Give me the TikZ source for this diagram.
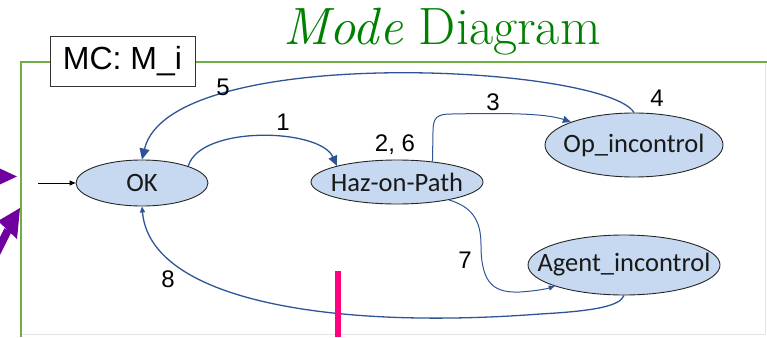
\documentclass[tikz,border=0pt]{standalone}
\usepackage{fontspec}
\newfontfamily\carl{Carlito}
\newfontfamily\libsans{Liberation Sans}
\usetikzlibrary{shapes.geometric,arrows.meta}
\definecolor{stateblue}{RGB}{198,217,240}
\definecolor{linkblue}{RGB}{47,84,150}
\definecolor{framegreen}{RGB}{112,173,71}
\definecolor{titlegreen}{RGB}{0,128,0}
\definecolor{arrowpurple}{RGB}{112,0,160}
\definecolor{markpink}{RGB}{255,0,128}
\definecolor{panelgray}{RGB}{225,230,225}
\newcommand{\zerow}[1]{\makebox[0pt][c]{#1}}
\begin{document}
\begin{tikzpicture}[x=1pt,y=-1pt,
  state/.style={ellipse, draw=black!85, line width=0.9pt, fill=stateblue, inner sep=0pt, text=black!90, font=\carl\fontsize{26.5}{30}\selectfont},
  link/.style={draw=linkblue, line width=1.3pt},
  num/.style={font=\libsans\fontsize{24}{28}\selectfont, inner sep=0pt, text=black},
  ]
\useasboundingbox (0,0) rectangle (767,337);
% frame
\draw[framegreen, line width=1.6pt] (21,337) -- (21,62) -- (767,62);
\draw[panelgray, line width=1pt] (765,63) -- (765,334) -- (22,334);
\node[draw=black!80, fill=white, line width=1pt, minimum width=145pt, minimum height=49pt, inner sep=0pt, font=\libsans\fontsize{32}{36}\selectfont] (mc) at (122.5,61.5) {MC: M\_i};
\node[anchor=base west, inner sep=0pt, text=titlegreen, font=\fontsize{52.5}{60}\selectfont] (title) at (283,45) {\textit{Mode} Diagram};
% states
\node[state, minimum width=132pt, minimum height=46pt] (ok) at (142,183) {\zerow{OK}};
\node[state, minimum width=172pt, minimum height=44pt] (haz) at (397,182) {\zerow{Haz-on-Path}};
\node[state, minimum width=178pt, minimum height=64pt] (op) at (634,145) {\zerow{Op\_incontrol}};
\node[state, minimum width=192pt, minimum height=60pt] (agent) at (624,265) {\zerow{Agent\_incontrol}};
% connectors
\coordinate (entry) at (38,183);
\draw[line width=0.9pt, -{Triangle[length=6pt,width=5pt]}] (entry) -- (ok.west);
\draw[link, -{Triangle[length=10pt,width=9pt]}] (ok.20) .. controls (200,125) and (320,128) .. (haz.165);
\draw[link, -{Triangle[length=11pt,width=10pt]}] (op.north) .. controls (605,65) and (170,42) .. (ok.north);
\draw[link, line width=1pt, -{Triangle[length=8pt,width=7pt]}] (haz.30) -- (433,132) .. controls (433,117) and (437,114) .. (452,114) .. controls (500,113) and (545,113) .. (op.160);
\draw[link, line width=1pt, -{Triangle[length=6pt,width=5pt]}] (haz.-19) .. controls (472,207) and (481,220) .. (481,245) .. controls (481,285) and (495,293) .. (520,292) .. controls (535,291) and (546,289) .. (agent.197);
\draw[link, -{Triangle[length=6pt,width=5pt]}] (agent.south) .. controls (620,306) and (595,311) .. (540,314) .. controls (330,330) and (150,300) .. (ok.south);
% labels
\node[num] (n5) at (223,87) {5};
\node[num] (n1) at (283,122) {1};
\node[num] (n26) at (395,145) {2, 6};
\node[num] (n3) at (493,102) {3};
\node[num] (n4) at (657,98) {4};
\node[num] (n7) at (465,260) {7};
\node[num] (n8) at (168,279) {8};
% purple arrows (cut at the edge)
\begin{scope}
\clip (0,0) rectangle (767,337);
\fill[arrowpurple] (-12,163) -- (17,176.5) -- (-12,190) -- cycle;
\fill[arrowpurple] (20,208) -- (-2,221) -- (17,239) -- cycle;
\draw[arrowpurple, line width=8pt] (8,230) -- (-8,262);
\end{scope}
% pink mark
\draw[markpink, line width=5.5pt] (338,271) -- (338,337);
\end{tikzpicture}
\end{document}
